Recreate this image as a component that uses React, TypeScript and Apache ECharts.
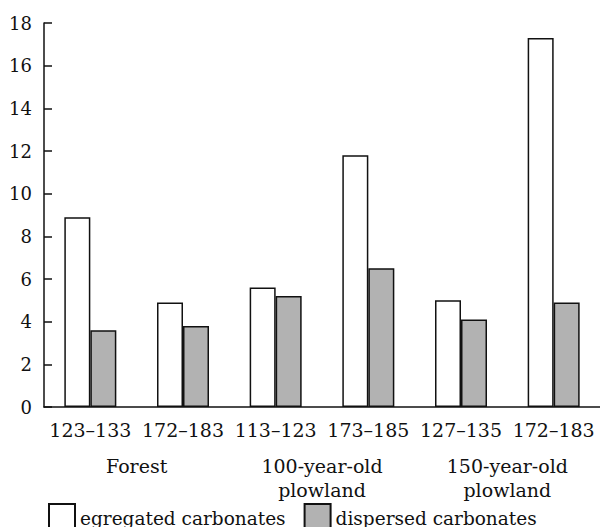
import React, { useEffect, useRef } from "react";
import * as echarts from "echarts";

const categories = ["123–133", "172–183", "113–123", "173–185", "127–135", "172–183"];
const groups = ["Forest", "100-year-old\nplowland", "150-year-old\nplowland"];
const segregated = [8.9, 4.9, 5.6, 11.8, 5.0, 17.3];
const dispersed = [3.6, 3.8, 5.2, 6.5, 4.1, 4.9];
const seriesNames = ["egregated carbonates", "dispersed carbonates"];

const FONT = "DejaVu Serif";

export default function App() {
  const ref = useRef<HTMLDivElement>(null);
  useEffect(() => {
    const chart = echarts.init(ref.current!, undefined, { renderer: "svg" });
    chart.setOption({
      animation: false,
      backgroundColor: "#ffffff",
      grid: { left: 44, right: -2, top: 23, height: 384 },
      legend: {
        left: 43,
        top: 498,
        itemWidth: 26,
        itemHeight: 28,
        itemGap: 18,
        icon: "rect",
        textStyle: { fontFamily: FONT, fontSize: 18.5, color: "#111", lineHeight: 20, padding: [0, 0, 8, 0] },
        data: seriesNames,
      },
      xAxis: [
        {
          type: "category",
          data: categories,
          axisLine: { lineStyle: { color: "#111", width: 1.5 } },
          axisTick: { show: false },
          axisLabel: { fontFamily: FONT, fontSize: 19, color: "#111", margin: 13, interval: 0 },
        },
        {
          type: "category",
          data: groups,
          position: "bottom",
          offset: 35,
          axisLine: { show: false },
          axisTick: { show: false },
          axisLabel: { fontFamily: FONT, fontSize: 19, color: "#111", margin: 12, interval: 0, lineHeight: 24 },
        },
      ],
      yAxis: {
        type: "value",
        min: 0,
        max: 18,
        interval: 2,
        splitLine: { show: false },
        axisLine: { show: true, lineStyle: { color: "#111", width: 1.5 } },
        axisTick: { show: true, inside: true, length: 8, lineStyle: { color: "#111", width: 1.5 } },
        axisLabel: { fontFamily: FONT, fontSize: 18, color: "#111", margin: 12 },
      },
      series: [
        {
          name: seriesNames[0],
          type: "bar",
          data: segregated,
          barWidth: 26,
          barGap: "0%",
          itemStyle: { color: "#ffffff", borderColor: "#111", borderWidth: 1.5 },
        },
        {
          name: seriesNames[1],
          type: "bar",
          data: dispersed,
          barWidth: 26,
          barGap: "0%",
          itemStyle: { color: "#b2b2b2", borderColor: "#111", borderWidth: 1.5 },
        },
      ],
    });
    return () => chart.dispose();
  }, []);
  return <div ref={ref} style={{ width: 600, height: 527, position: "absolute", left: 0, top: 0 }} />;
}
